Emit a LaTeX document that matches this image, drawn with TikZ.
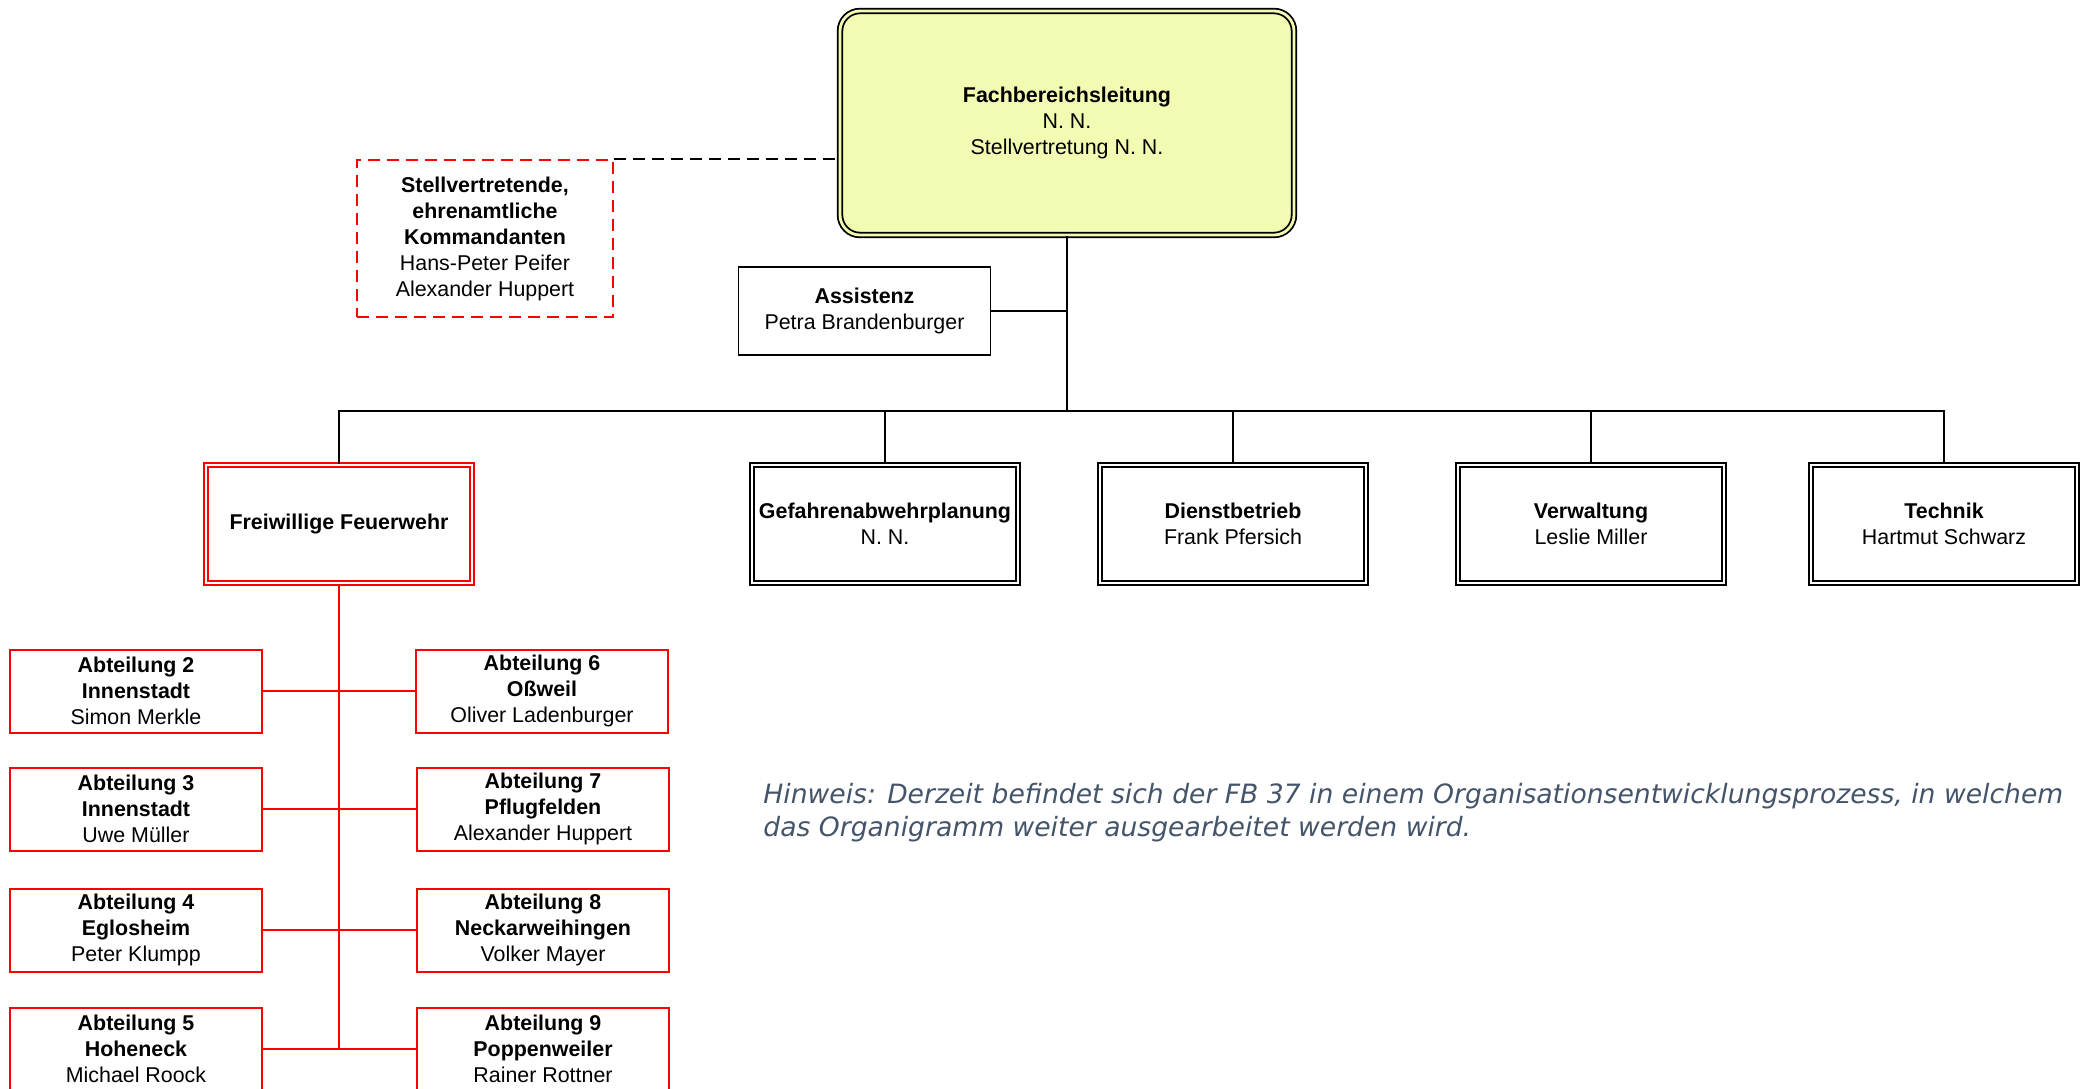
\documentclass[tikz,border=0pt]{standalone}
\usepackage{fontspec}
\setmainfont{Liberation Sans}
\newfontfamily\notefont{DejaVu Sans}
\usetikzlibrary{calc}
\definecolor{fblyellow}{RGB}{243,250,178}
\definecolor{notegray}{RGB}{68,84,106}
\tikzset{
    orgbox/.style = {draw, line width=0.9pt, align=center, inner sep=0pt,
        font=\fontsize{10.7}{13}\selectfont},
    dblbox/.style = {orgbox, double, double distance=1.4pt,
        minimum width=133pt, minimum height=59pt},
    abtbox/.style = {orgbox, draw=red, line width=1pt, minimum width=126pt, minimum height=41.5pt},
    link/.style = {line width=0.75pt},
    redlink/.style = {link, red, line width=0.9pt},
}

\begin{document}
\begin{tikzpicture}[x=0.5pt, y=-0.5pt]
\clip (0,0) rectangle (2084,1088);

% Leitung
\node[dblbox, rounded corners=10pt, fill=fblyellow, double=fblyellow,
    minimum width=227pt, minimum height=112pt] (fbl) at (1067,123)
    {\textbf{Fachbereichsleitung}\\N. N.\\Stellvertretung N. N.};

\node[orgbox, draw=red, dashed, dash pattern=on 6pt off 3.5pt, line width=1pt,
    minimum width=128pt, minimum height=78.5pt] (kdt) at (485,238.5)
    {\textbf{Stellvertretende,}\\\textbf{ehrenamtliche}\\\textbf{Kommandanten}\\Hans-Peter Peifer\\Alexander Huppert};
\draw[link, dashed, dash pattern=on 6pt off 3.5pt] (kdt.north east) -- (kdt.north east -| fbl.west);

\node[orgbox, minimum width=126pt, minimum height=44pt] (assist) at (864.5,311)
    {\textbf{Assistenz}\\Petra Brandenburger};
\draw[link] (assist.east) -- (assist.east -| fbl.south);

% Bereiche
\coordinate (bus) at (1067,411);
\draw[link] (fbl.south) -- (bus);

\node[dblbox, draw=red] (ff) at (339,524) {\textbf{Freiwillige Feuerwehr}};
\node[dblbox] (gap) at (885,524) {\textbf{Gefahrenabwehrplanung}\\N. N.};
\node[dblbox] (dienst) at (1233,524) {\textbf{Dienstbetrieb}\\Frank Pfersich};
\node[dblbox] (verw) at (1591,524) {\textbf{Verwaltung}\\Leslie Miller};
\node[dblbox] (tech) at (1944,524) {\textbf{Technik}\\Hartmut Schwarz};

\foreach \n in {ff,gap,dienst,verw,tech}
    \draw[link] (bus) -| (\n.north);

% Abteilungen
\node[abtbox] (ab2) at (136,691) {\textbf{Abteilung 2}\\\textbf{Innenstadt}\\Simon Merkle};
\node[abtbox] (ab3) at (136,809) {\textbf{Abteilung 3}\\\textbf{Innenstadt}\\Uwe Müller};
\node[abtbox] (ab4) at (136,930) {\textbf{Abteilung 4}\\\textbf{Eglosheim}\\Peter Klumpp};
\node[abtbox] (ab5) at (136,1049) {\textbf{Abteilung 5}\\\textbf{Hoheneck}\\Michael Roock};
\node[abtbox] (ab6) at (542,691) {\textbf{Abteilung 6}\\\textbf{Oßweil}\\Oliver Ladenburger};
\node[abtbox] (ab7) at (543,809) {\textbf{Abteilung 7}\\\textbf{Pflugfelden}\\Alexander Huppert};
\node[abtbox] (ab8) at (543,930) {\textbf{Abteilung 8}\\\textbf{Neckarweihingen}\\Volker Mayer};
\node[abtbox] (ab9) at (543,1049) {\textbf{Abteilung 9}\\\textbf{Poppenweiler}\\Rainer Rottner};

\draw[redlink] (ff.south) -- (ff.south |- ab5.east);
\draw[redlink] (ab2) -- (ab6);
\draw[redlink] (ab3) -- (ab7);
\draw[redlink] (ab4) -- (ab8);
\draw[redlink] (ab5) -- (ab9);

\node[anchor=north west, align=left, inner sep=0pt, text=notegray,
    font=\notefont\itshape\fontsize{13.3}{16.4}\selectfont] (hint) at (763,783)
    {Hinweis: Derzeit befindet sich der FB 37 in einem Organisationsentwicklungsprozess, in welchem\\
     das Organigramm weiter ausgearbeitet werden wird.};
\end{tikzpicture}
\end{document}
